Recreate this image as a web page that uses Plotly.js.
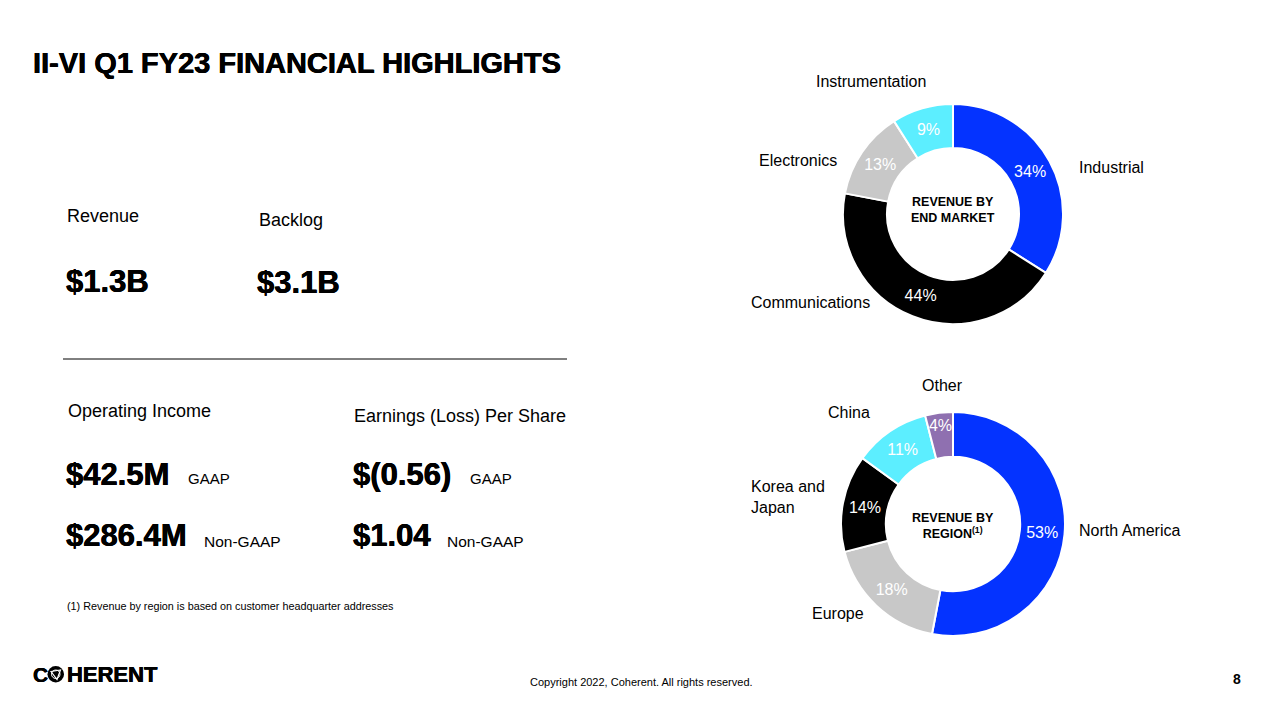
<!DOCTYPE html>
<html>
<head>
<meta charset="utf-8">
<script src="https://cdn.plot.ly/plotly-3.0.1.min.js"></script>
<style>
  body { margin: 0; background: #fff; }
  #plot { width: 1280px; height: 720px; }
</style>
</head>
<body>
<div id="plot"></div>
<script>
// Revenue by end market (%)
let marketLabels = ['Industrial', 'Communications', 'Electronics', 'Instrumentation'];
let marketValues = [34, 44, 13, 9];
let marketColors = ['#0433ff', '#000000', '#c8c8c8', '#5ceeff'];

// Revenue by region (%)
let regionLabels = ['North America', 'Europe', 'Korea and Japan', 'China', 'Other'];
let regionValues = [53, 18, 14, 11, 4];
let regionColors = ['#0433ff', '#c8c8c8', '#000000', '#5ceeff', '#8f70b0'];

// Headline figures
let kpiTitles = ['Revenue', 'Backlog', 'Operating Income', 'Earnings (Loss) Per Share'];
let kpiValues = ['$1.3B', '$3.1B', '$42.5M', '$286.4M', '$(0.56)', '$1.04'];
let kpiTags = ['GAAP', 'Non-GAAP', 'GAAP', 'Non-GAAP'];

// pixel -> paper helpers
const W = 1280, H = 720;
function X(px) { return px / W; }
function Y(py) { return 1 - py / H; }

// pie domain from centre + radius in pixels
function domain(cx, cy, r) {
    return { x: [X(cx - r), X(cx + r)], y: [Y(cy + r), Y(cy - r)] };
}

let pieCommon = {
    type: 'pie',
    sort: false,
    direction: 'clockwise',
    rotation: 0,
    hole: 0.6,
    textposition: 'inside',
    insidetextorientation: 'horizontal',
    texttemplate: '%{value}%',
    textfont: { family: 'Liberation Sans, Arial, sans-serif', size: 16, color: '#ffffff' },
    hoverinfo: 'none',
    showlegend: false
};

let trace1 = Object.assign({}, pieCommon, {
    labels: marketLabels,
    values: marketValues,
    marker: { colors: marketColors, line: { color: '#ffffff', width: 2 } },
    domain: domain(953, 214, 110)
});

let trace2 = Object.assign({}, pieCommon, {
    labels: regionLabels,
    values: regionValues,
    marker: { colors: regionColors, line: { color: '#ffffff', width: 2 } },
    domain: domain(953, 524, 112)
});

// a touch of text-shadow to thicken the bold display font
const HEAVY = '0.35px 0 0 #000, -0.35px 0 0 #000';

let annotations = [];
function txt(text, px, py, size, opts) {
    opts = opts || {};
    let font = {
        family: 'Liberation Sans, Arial, sans-serif',
        size: size,
        color: '#000000',
        weight: opts.bold ? 'bold' : 'normal'
    };
    if (opts.heavy) font.shadow = HEAVY;
    annotations.push({
        xref: 'paper', yref: 'paper',
        x: X(px), y: Y(py),
        xanchor: opts.anchor || 'left', yanchor: 'middle',
        align: opts.align || 'left',
        showarrow: false,
        text: text,
        font: font
    });
}

// title
txt('II-VI Q1 FY23 FINANCIAL HIGHLIGHTS', 31, 63, 29, { bold: true, heavy: true });

// kpi blocks
txt(kpiTitles[0], 65, 216, 18);
txt(kpiTitles[1], 257, 220, 18);
txt(kpiValues[0], 64, 282, 31, { bold: true, heavy: true });
txt(kpiValues[1], 255, 283, 31, { bold: true, heavy: true });
txt(kpiTitles[2], 66, 411, 18);
txt(kpiTitles[3], 352, 416, 18);
txt(kpiValues[2], 64, 474, 31, { bold: true, heavy: true });
txt(kpiTags[0], 186, 478, 15);
txt(kpiValues[3], 64, 535, 31, { bold: true, heavy: true });
txt(kpiTags[1], 202, 541, 15.5);
txt(kpiValues[4], 351, 474, 31, { bold: true, heavy: true });
txt(kpiTags[2], 468, 478, 15);
txt(kpiValues[5], 351, 535, 31, { bold: true, heavy: true });
txt(kpiTags[3], 445, 541, 15.5);
txt('(1) Revenue by region is based on customer headquarter addresses', 65, 606, 10.8);

// donut labels
let marketPos = [[1077, 167, 'left'], [749, 302, 'left'], [839, 160, 'right'], [871, 81, 'center']];
marketLabels.forEach((l, i) => txt(l, marketPos[i][0], marketPos[i][1], 16, { anchor: marketPos[i][2] }));
let regionPos = [[1077, 530, 'left'], [810, 613, 'left'], [749, 497, 'left'], [826, 412, 'left'], [942, 385, 'center']];
regionLabels.forEach((l, i) => txt(l.replace('and ', 'and<br>'), regionPos[i][0], regionPos[i][1], 16, { anchor: regionPos[i][2] }));

// donut centre captions
txt('REVENUE BY<br>END MARKET', 953, 210, 12.5, { bold: true, anchor: 'center', align: 'center' });
txt('REVENUE BY<br>REGION<sup>(1)</sup>', 953, 526, 12.5, { bold: true, anchor: 'center', align: 'center' });

// footer
txt('C', 31, 674, 21, { bold: true, heavy: true });
txt('HERENT', 65, 674, 22, { bold: true, heavy: true });
txt('Copyright 2022, Coherent. All rights reserved.', 641, 682, 11, { anchor: 'center' });
txt('8', 1237, 679, 14, { anchor: 'center', bold: true });

function pth(pts) {
    return pts.map((p, i) => (i ? 'L' : 'M') + X(p[0]) + ',' + Y(p[1])).join(' ') + ' Z';
}

let shapes = [
    // divider
    { type: 'line', xref: 'paper', yref: 'paper', x0: X(63), x1: X(567), y0: Y(359), y1: Y(359),
      line: { color: '#000000', width: 1 } },
    // logo globe
    { type: 'circle', xref: 'paper', yref: 'paper', x0: X(47.5), x1: X(64), y0: Y(682.5), y1: Y(666),
      fillcolor: '#000000', line: { color: '#000000', width: 0 } },
    { type: 'path', xref: 'paper', yref: 'paper', path: pth([[51, 671.5], [60.5, 670], [57, 679.5]]),
      line: { color: '#ffffff', width: 1.2 } },
    { type: 'circle', xref: 'paper', yref: 'paper', x0: X(51.5), x1: X(60), y0: Y(678.5), y1: Y(670),
      line: { color: '#ffffff', width: 1 } }
];

let layout = {
    width: W,
    height: H,
    margin: { l: 0, r: 0, t: 0, b: 0 },
    paper_bgcolor: '#ffffff',
    plot_bgcolor: '#ffffff',
    showlegend: false,
    uniformtext: { minsize: 16, mode: 'show' },
    font: { family: 'Liberation Sans, Arial, sans-serif', color: '#000000' },
    annotations: annotations,
    shapes: shapes
};

Plotly.newPlot('plot', [trace1, trace2], layout, { displayModeBar: false, staticPlot: true });
</script>
</body>
</html>
